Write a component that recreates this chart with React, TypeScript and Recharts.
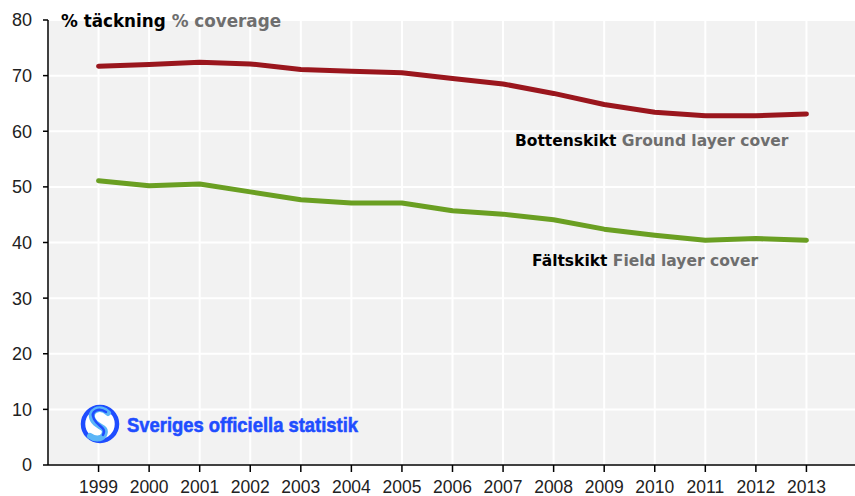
import React from 'react';
import { LineChart, Line, XAxis, YAxis, CartesianGrid } from 'recharts';

const years = [1999, 2000, 2001, 2002, 2003, 2004, 2005, 2006, 2007, 2008, 2009, 2010, 2011, 2012, 2013];
const groundLayer = [71.7, 72.0, 72.4, 72.1, 71.1, 70.8, 70.5, 69.5, 68.5, 66.8, 64.8, 63.4, 62.8, 62.8, 63.1];
const fieldLayer = [51.1, 50.2, 50.5, 49.1, 47.7, 47.1, 47.1, 45.7, 45.1, 44.1, 42.4, 41.3, 40.4, 40.7, 40.4];
const yTicks = [0, 10, 20, 30, 40, 50, 60, 70, 80];

const data = years.map((year, i) => ({ year, ground: groundLayer[i], field: fieldLayer[i] }));

const FONT = '"Liberation Sans", Arial, Helvetica, sans-serif';
const LABEL_FONT = '"DejaVu Sans", Verdana, sans-serif';

const SosLogo: React.FC = () => (
  <g>
    <circle cx={100} cy={424} r={17} fill="#fff" stroke="#1f4dff" strokeWidth={4.5} />
    <path
      d="M108 413 C100 405 88 411 93 420 C97 428 108 426 104 435 C101 440 94 439 90 436"
      fill="none"
      stroke="#5bb6f7"
      strokeWidth={6}
      strokeLinecap="round"
    />
    <path
      d="M106 412 C99 407 90 411 94 419 C98 427 107 427 103 435"
      fill="none"
      stroke="#1f4dff"
      strokeWidth={2.5}
      strokeLinecap="round"
    />
    <text
      x={127}
      y={432}
      fill="#1f4dff"
      stroke="#1f4dff"
      strokeWidth={0.6}
      fontFamily='"Liberation Sans Narrow", "Arial Narrow", sans-serif'
      fontWeight={700}
      fontSize={21}
      textLength={231}
      lengthAdjust="spacingAndGlyphs"
    >
      Sveriges officiella statistik
    </text>
  </g>
);

export default function App() {
  return (
    <div style={{ position: 'fixed', left: 0, top: 0, width: 855, height: 496, overflow: 'hidden', background: '#fff' }}>
      <LineChart
        width={870}
        height={496}
        data={data}
        margin={{ top: 20, right: 13, bottom: 0, left: 0 }}
      >
        <CartesianGrid fill="#f2f2f2" stroke="#ffffff" strokeWidth={2} />
        <XAxis
          dataKey="year"
          type="number"
          domain={[1998, 2014]}
          ticks={years}
          allowDataOverflow
          height={31}
          tickSize={7}
          tickMargin={9}
          axisLine={{ stroke: '#000', strokeWidth: 1.5 }}
          tickLine={{ stroke: '#000', strokeWidth: 1.5 }}
          tick={{ fill: '#222', fontSize: 17.5, fontFamily: FONT }}
          interval={0}
        />
        <YAxis
          domain={[0, 80]}
          ticks={yTicks}
          width={48}
          tickSize={5}
          tickMargin={11}
          axisLine={{ stroke: '#000', strokeWidth: 1.5 }}
          tickLine={{ stroke: '#000', strokeWidth: 1.5 }}
          tick={{ fill: '#222', fontSize: 18, fontFamily: FONT }}
          interval={0}
        />
        <Line
          dataKey="ground"
          stroke="#9a161d"
          strokeWidth={5}
          dot={false}
          strokeLinecap="round"
          strokeLinejoin="round"
          isAnimationActive={false}
        />
        <Line
          dataKey="field"
          stroke="#6a9f22"
          strokeWidth={5}
          dot={false}
          strokeLinecap="round"
          strokeLinejoin="round"
          isAnimationActive={false}
        />
      </LineChart>
      <svg width={855} height={496} style={{ position: 'absolute', left: 0, top: 0, pointerEvents: 'none' }}>
        <text x={61} y={27} fontFamily={LABEL_FONT} fontWeight={700} fontSize={16.8}>
          <tspan fill="#000">% täckning </tspan>
          <tspan fill="#6e6e6e">% coverage</tspan>
        </text>
        <text x={515} y={146} fontFamily={LABEL_FONT} fontWeight={700} fontSize={15.5}>
          <tspan fill="#000">Bottenskikt </tspan>
          <tspan fill="#6e6e6e">Ground layer cover</tspan>
        </text>
        <text x={532} y={266} fontFamily={LABEL_FONT} fontWeight={700} fontSize={15.5}>
          <tspan fill="#000">Fältskikt </tspan>
          <tspan fill="#6e6e6e">Field layer cover</tspan>
        </text>
        <SosLogo />
      </svg>
    </div>
  );
}
